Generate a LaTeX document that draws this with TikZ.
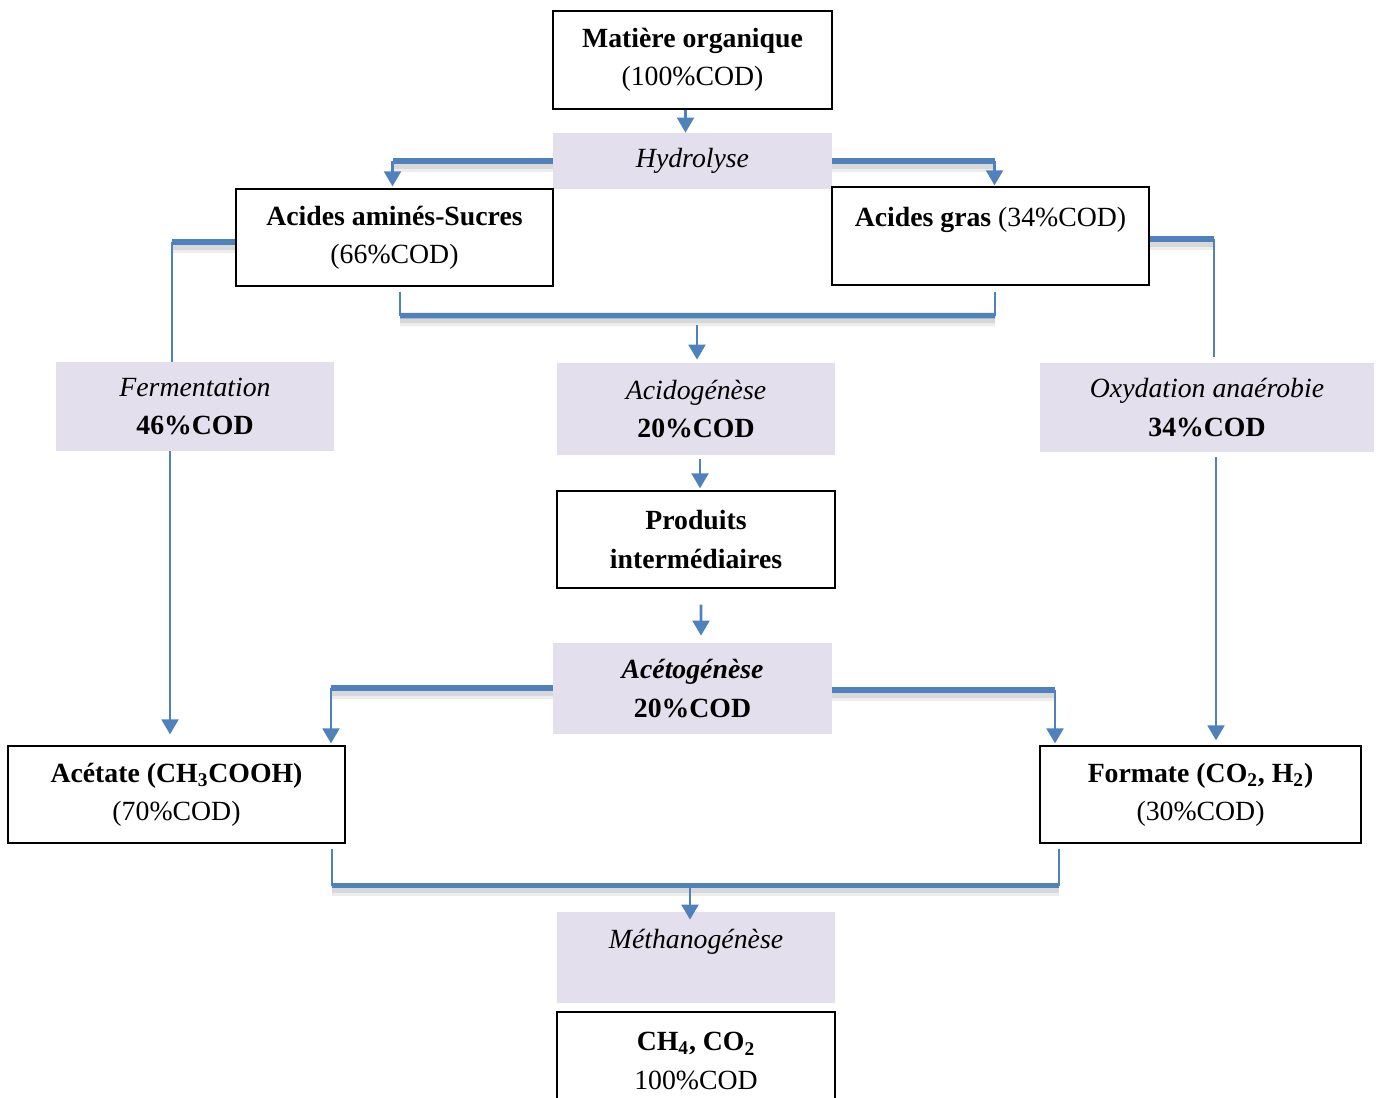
\documentclass[tikz,border=0pt]{standalone}
\usepackage{fontspec}
\setmainfont{Liberation Serif}
\usetikzlibrary{arrows.meta,calc}
\definecolor{lblue}{HTML}{4F81BD}
\definecolor{lav}{HTML}{E4DFEC}
\newdimen\px \px=0.2mm
\begin{document}
\begin{tikzpicture}[x=0.2mm,y=-0.2mm,
 every node/.style={font=\fontsize{15.8}{21.8}\selectfont, align=center, inner sep=0pt},
 box/.style={draw=black, line width=0.7pt, fill=white},
 stage/.style={fill=lav},
 thickln/.style={draw=lblue, line width=3.1pt,
   preaction={draw=black, draw opacity=0.07, line width=7pt, transform canvas={yshift=-0.9mm}},
   preaction={draw=black, draw opacity=0.09, line width=4pt, transform canvas={yshift=-0.8mm}}},
 thinln/.style={draw=lblue, line width=1.1pt},
 arr/.style={draw=lblue, line width=1.6pt, -{Triangle[width=9.5pt,length=8.5pt]}},
]
\useasboundingbox (0,0) rectangle (1379,1097);

% nodes
\node[box, minimum width=279\px, minimum height=98\px] (mat) at (692.5,60) {\textbf{Matière organique}\\(100\%COD)};
\node[stage, minimum width=279\px, minimum height=56\px] (hyd) at (692.5,161) {\textit{Hydrolyse}};
\node[box, minimum width=317\px, minimum height=97\px] (aas) at (394.5,237.5) {\textbf{Acides aminés-Sucres}\\(66\%COD)};
\node[box, minimum width=317\px, minimum height=98\px] (ag) at (990.5,236) {\textbf{Acides gras} (34\%COD)\\\mbox{}};
\node[stage, minimum width=278\px, minimum height=89\px] (ferm) at (195,406.5) {\textit{Fermentation}\\\textbf{46\%COD}};
\node[stage, minimum width=278\px, minimum height=92\px] (acido) at (696,409) {\textit{Acidogénèse}\\\textbf{20\%COD}};
\node[stage, minimum width=334\px, minimum height=89\px] (oxy) at (1207,407.5) {\textit{Oxydation anaérobie}\\\textbf{34\%COD}};
\node[box, minimum width=278\px, minimum height=97\px] (prod) at (696,539.5) {\textbf{Produits}\\\textbf{intermédiaires}};
\node[stage, minimum width=279\px, minimum height=91\px] (aceto) at (692.5,688.5) {\textbf{\textit{Acétogénèse}}\\\textbf{20\%COD}};
\node[box, minimum width=337\px, minimum height=97\px] (acet) at (176.5,794.5) {\textbf{Acétate (CH\textsubscript{3}COOH)}\\(70\%COD)};
\node[box, minimum width=321\px, minimum height=97\px] (form) at (1200.5,794.5) {\textbf{Formate (CO\textsubscript{2}, H\textsubscript{2})}\\(30\%COD)};
\node[stage, minimum width=278\px, minimum height=91\px] (meth) at (696,957.5) {\textit{Méthanogénèse}\\\mbox{}};
\node[box, minimum width=278\px, minimum height=98\px] (ch4) at (696,1061) {\textbf{CH\textsubscript{4}, CO\textsubscript{2}}\\100\%COD};

% hydrolyse
\draw[arr] ($(mat.south)+(-7,0)$) -- ($(hyd.north)+(-7,0)$);
\coordinate (h1) at ($(hyd.west -| aas.north)+(-2,0)$);
\draw[thickln] (hyd.west) -- (h1);
\draw[arr] (h1) -- ($(aas.north)+(-2,-2)$);
\coordinate (h2) at ($(hyd.east -| ag.north)+(4,0)$);
\draw[thickln] (hyd.east) -- (h2);
\draw[arr] (h2) -- ($(ag.north)+(4,-1)$);

% bracket to acidogenese
\coordinate (b1) at ($(aas.south)+(5.5,5)$);
\coordinate (b2) at ($(ag.south)+(4.5,6)$);
\draw[thinln] (b1) -- ++(0,24);
\draw[thinln] (b2) -- ++(0,24);
\draw[thickln] ($(b1)+(0,24)$) -- ($(b2)+(0,24)$);
\draw[arr] ($(acido.north)+(1,-38)$) -- ($(acido.north)+(1,-3)$);

% fermentation
\coordinate (f1) at ($(aas.west)+(0,4.5)$);
\coordinate (fn) at ($(ferm.north)+(-23,0)$);
\coordinate (fc) at (f1 -| fn);
\draw[thickln] (f1) -- (fc);
\draw[thinln] (fc) -- (fn);
\draw[arr] ($(ferm.south)+(-25,0)$) -- ($(ferm.south |- acet.north)+(-25,-11)$);

% oxydation
\coordinate (o1) at ($(ag.east)+(0,3)$);
\coordinate (on) at ($(oxy.north)+(7,-6)$);
\coordinate (oc) at (o1 -| on);
\draw[thickln] (o1) -- (oc);
\draw[thinln] (oc) -- (on);
\draw[arr] ($(oxy.south)+(9,5)$) -- ($(oxy.south |- form.north)+(9,-5)$);

% central chain
\draw[arr] ($(acido.south)+(4,4)$) -- ($(prod.north)+(4,-2)$);
\draw[arr] ($(prod.south)+(5,16)$) -- ($(aceto.north)+(8.5,-7)$);

% acetogenese branches
\coordinate (a1) at ($(aceto.west)+(0,-0.5)$);
\coordinate (an) at ($(acet.north)+(154.5,-2)$);
\coordinate (ac) at (a1 -| an);
\draw[thickln] (a1) -- (ac);
\draw[arr] (ac) -- (an);
\coordinate (a2) at ($(aceto.east)+(0,1.5)$);
\coordinate (fn2) at ($(form.north)+(-145.5,-2)$);
\coordinate (fc2) at (a2 -| fn2);
\draw[thickln] (a2) -- (fc2);
\draw[arr] (fc2) -- (fn2);

% bottom bracket
\coordinate (c1) at ($(acet.south)+(155.5,5)$);
\coordinate (c2) at ($(form.south)+(-141.5,5)$);
\draw[thinln] (c1) -- ++(0,37);
\draw[thinln] (c2) -- ++(0,37);
\draw[thickln] ($(c1)+(0,37)$) -- ($(c2)+(0,37)$);
\draw[arr] ($(meth.north)+(-6,-27)$) -- ($(meth.north)+(-6,8)$);
\end{tikzpicture}
\end{document}
